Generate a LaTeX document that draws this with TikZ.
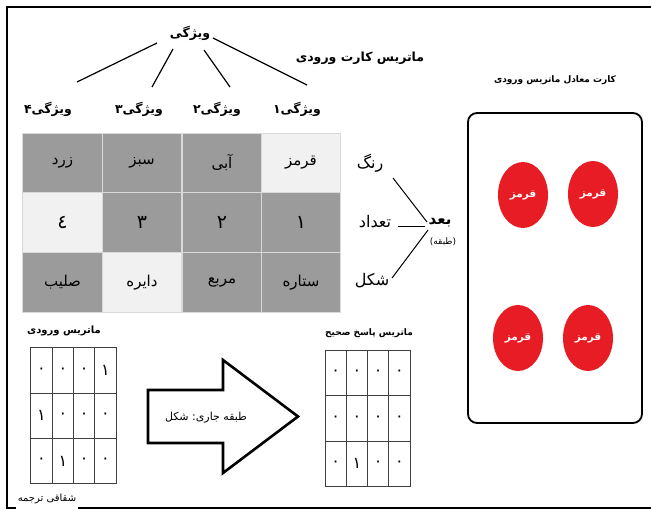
\documentclass[tikz,border=0pt]{standalone}
\usepackage{fontspec}
\usetikzlibrary{shapes.geometric}
\newfontfamily\fa[Script=Arabic]{DejaVu Sans}
\TeXXeTstate=1
\newcommand{\fat}[1]{\beginR #1\endR}
\definecolor{cellgray}{RGB}{155,155,155}
\definecolor{celllight}{RGB}{241,241,241}
\definecolor{cardred}{RGB}{232,28,36}
\begin{document}
\begin{tikzpicture}[x=1pt,y=-1pt,
  every node/.style={inner sep=0pt},
  toplbl/.style={font=\fa\bfseries\fontsize{12.5}{15}\selectfont},
  smalltitle/.style={font=\fa\bfseries\fontsize{9}{11}\selectfont},
  sidelbl/.style={font=\fa\fontsize{16}{18}\selectfont},
  tree/.style={line width=1.2pt},
  cellbox/.style={draw=white!85!black, line width=1.4pt, minimum width=79.5pt, minimum height=59.5pt, font=\fa\fontsize{15}{17}\selectfont},
  darkcell/.style={cellbox, fill=cellgray},
  lightcell/.style={cellbox, fill=celllight},
  digit/.style={font=\fa\fontsize{19}{21}\selectfont},
  gridcell/.style={draw=black!75, line width=0.8pt, minimum width=21.3pt, minimum height=45.3pt, font=\fa\fontsize{16}{18}\selectfont},
  redcard/.style={ellipse, fill=cardred, minimum width=50pt, minimum height=66pt, text=white, font=\fa\bfseries\fontsize{10.5}{12}\selectfont}
]
\useasboundingbox (0,0) rectangle (651,513);
% frame
\draw[line width=1.6pt] (651,7) -- (7,7) -- (7,508) -- (16,508);
\draw[line width=1.6pt] (78,508) -- (651,508);
\node[font=\fa\fontsize{10}{12}\selectfont] (sign) at (47,499) {\fat{شقاقی ترجمه}};

% attribute tree
\node[toplbl] (w) at (190,33) {\fat{ویژگی}};
\node[toplbl] (f4) at (48,109) {\fat{ویژگی۴}};
\node[toplbl] (f3) at (139,109) {\fat{ویژگی۳}};
\node[toplbl] (f2) at (217,109) {\fat{ویژگی۲}};
\node[toplbl] (f1) at (297,109) {\fat{ویژگی۱}};
\draw[tree] ([shift={(-33,10)}]w.center) -- ([shift={(29,-27)}]f4.center);
\draw[tree] ([shift={(-17,16)}]w.center) -- ([shift={(13,-22)}]f3.center);
\draw[tree] ([shift={(14,17)}]w.center) -- ([shift={(13,-22)}]f2.center);
\draw[tree] ([shift={(23,5)}]w.center) -- ([shift={(10,-24)}]f1.center);
\node[toplbl] (mat) at (360,58) {\fat{ماتریس کارت ورودی}};

% main table
\node[darkcell]  (t11) at (62.5,163) {\fat{زرد}};
\node[darkcell]  (t12) at (142,163) {\fat{سبز}};
\node[darkcell]  (t13) at (222,163) {\fat{آبی}};
\node[lightcell] (t14) at (301,163) {\fat{قرمز}};
\node[lightcell,digit] (t21) at (62.5,222.5) {\fat{٤}};
\node[darkcell,digit]  (t22) at (142,222.5) {\fat{۳}};
\node[darkcell,digit]  (t23) at (222,222.5) {\fat{۲}};
\node[darkcell,digit]  (t24) at (301,222.5) {\fat{۱}};
\node[darkcell]  (t31) at (62.5,282.5) {\fat{صلیب}};
\node[lightcell] (t32) at (142,282.5) {\fat{دایره}};
\node[darkcell]  (t33) at (222,282.5) {\fat{مربع}};
\node[darkcell]  (t34) at (301,282.5) {\fat{ستاره}};

% dimension labels
\node[sidelbl] (rang) at (370,163) {\fat{رنگ}};
\node[sidelbl] (tedad) at (375,222) {\fat{تعداد}};
\node[sidelbl] (shekl) at (372,281) {\fat{شکل}};
\node[font=\fa\bfseries\fontsize{15}{17}\selectfont] (bod) at (440,223) {\fat{بعد}};
\node[font=\fa\fontsize{9}{10}\selectfont] (tabaqe) at (443,242) {(طبقه)};
\draw[line width=1pt] ([shift={(23,15)}]rang.center) -- ([shift={(-13,-1)}]bod.center);
\draw[line width=1pt] ([shift={(23,5)}]tedad.center) -- ([shift={(-15,4)}]bod.center);
\draw[line width=1pt] ([shift={(20,-3)}]shekl.center) -- ([shift={(-12,7)}]bod.center);

% right card
\node[smalltitle] (cardtitle) at (555,80) {\fat{کارت معادل ماتریس ورودی}};
\node[draw, line width=1.8pt, rounded corners=9pt, minimum width=174pt, minimum height=310pt] (card) at (555,268) {};
\node[redcard] (r1) at (523,195) {\fat{قرمز}};
\node[redcard] (r2) at (593,194) {\fat{قرمز}};
\node[redcard] (r3) at (518,338) {\fat{قرمز}};
\node[redcard] (r4) at (588,338) {\fat{قرمز}};

% input matrix
\node[smalltitle,font=\fa\bfseries\fontsize{10}{12}\selectfont] (intitle) at (64,331) {\fat{ماتریس ورودی}};
\node[gridcell] (a11) at (41.5,370.5) {\fat{۰}};
\node[gridcell] (a12) at (62.8,370.5) {\fat{۰}};
\node[gridcell] (a13) at (84.1,370.5) {\fat{۰}};
\node[gridcell] (a14) at (105.4,370.5) {\fat{۱}};
\node[gridcell] (a21) at (41.5,415.8) {\fat{۱}};
\node[gridcell] (a22) at (62.8,415.8) {\fat{۰}};
\node[gridcell] (a23) at (84.1,415.8) {\fat{۰}};
\node[gridcell] (a24) at (105.4,415.8) {\fat{۰}};
\node[gridcell] (a31) at (41.5,461.1) {\fat{۰}};
\node[gridcell] (a32) at (62.8,461.1) {\fat{۱}};
\node[gridcell] (a33) at (84.1,461.1) {\fat{۰}};
\node[gridcell] (a34) at (105.4,461.1) {\fat{۰}};

% arrow
\draw[line width=2.6pt, line join=miter, fill=white] (148,390) -- (223,390) -- (223,360) -- (298,416.5) -- (223,473) -- (223,443) -- (148,443) -- cycle;
\node[font=\fa\fontsize{11}{13}\selectfont] (arrtext) at (206,418) {\fat{طبقه جاری\kern0pt:\ شکل}};

% answer matrix
\node[smalltitle] (outtitle) at (369,333) {\fat{ماتریس پاسخ صحیح}};
\node[gridcell] (b11) at (335.6,373) {\fat{۰}};
\node[gridcell] (b12) at (356.9,373) {\fat{۰}};
\node[gridcell] (b13) at (378.2,373) {\fat{۰}};
\node[gridcell] (b14) at (399.5,373) {\fat{۰}};
\node[gridcell] (b21) at (335.6,418.3) {\fat{۰}};
\node[gridcell] (b22) at (356.9,418.3) {\fat{۰}};
\node[gridcell] (b23) at (378.2,418.3) {\fat{۰}};
\node[gridcell] (b24) at (399.5,418.3) {\fat{۰}};
\node[gridcell] (b31) at (335.6,463.6) {\fat{۰}};
\node[gridcell] (b32) at (356.9,463.6) {\fat{۱}};
\node[gridcell] (b33) at (378.2,463.6) {\fat{۰}};
\node[gridcell] (b34) at (399.5,463.6) {\fat{۰}};
\end{tikzpicture}
\end{document}
